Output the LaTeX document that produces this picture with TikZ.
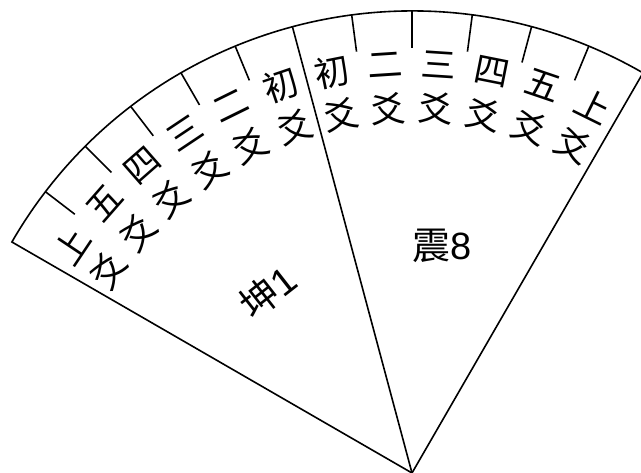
\documentclass[tikz,border=0pt]{standalone}
\usepackage{fontspec}
\setmainfont{Liberation Sans}
\newfontfamily\cjk{Noto Sans CJK SC}
\begin{document}
\begin{tikzpicture}[x=1pt,y=1pt,
  edge/.style={line width=1.6pt, line join=miter},
  tick/.style={line width=1.6pt},
  ring/.style={inner sep=0pt, font=\cjk\fontsize{35}{35}\selectfont},
  big/.style={inner sep=0pt, font=\fontsize{38}{38}\selectfont}]
\useasboundingbox (-412,0) rectangle (229,473);
\coordinate (O) at (0,0);
\coordinate (L) at (150:462);
\coordinate (M) at (105:462);
\coordinate (R) at (60:462);
\draw[edge] (O) -- (L) arc[start angle=150, end angle=60, radius=462] -- cycle;
\draw[edge] (O) -- (M);
\foreach \a [count=\k] in {67.5,75,82.5,90,97.5,112.5,120,127.5,135,142.5} {
  \coordinate (t\k) at (\a:462);
  \coordinate (s\k) at (\a:425);
  \draw[tick] (t\k) -- (s\k);
}
\foreach \c [count=\i from 0] in {初,二,三,四,五,上} {
  \pgfmathsetmacro\ar{101.25-7.5*\i}
  \pgfmathsetmacro\al{108.75+7.5*\i}
  \node[ring, rotate=\ar-90] (ra\i) at (\ar:409) {\c};
  \node[ring, rotate=\ar-90] (rb\i) at (\ar:365) {爻};
  \node[ring, rotate=\al-90] (la\i) at (\al:409) {\c};
  \node[ring, rotate=\al-90] (lb\i) at (\al:365) {爻};
}
\node[big] (zhen) at (30,227) {{\cjk 震}8};
\node[big, rotate=38] (kun) at (-144,181) {{\cjk 坤}1};
\end{tikzpicture}
\end{document}
